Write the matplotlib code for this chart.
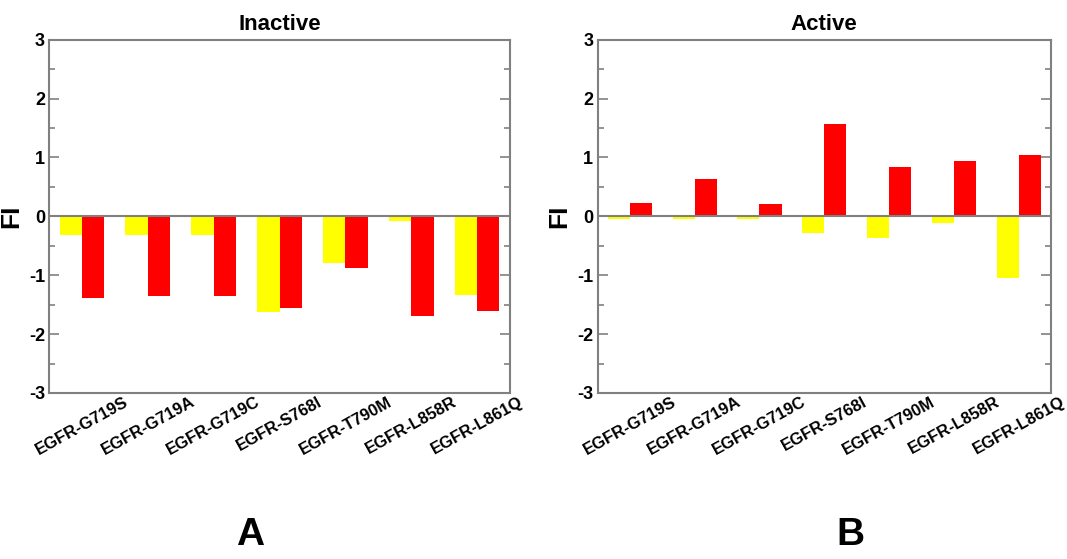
import matplotlib
matplotlib.use("Agg")
import matplotlib.pyplot as plt
from matplotlib.ticker import MultipleLocator
import numpy as np

mutants = ['EGFR-G719S', 'EGFR-G719A', 'EGFR-G719C', 'EGFR-S768I',
           'EGFR-T790M', 'EGFR-L858R', 'EGFR-L861Q']

# FI values (yellow / red series)
inactive_yellow = [-0.32, -0.32, -0.32, -1.62, -0.80, -0.08, -1.33]
inactive_red = [-1.39, -1.36, -1.36, -1.56, -0.88, -1.69, -1.60]
active_yellow = [-0.05, -0.05, -0.05, -0.28, -0.37, -0.12, -1.04]
active_red = [0.23, 0.63, 0.21, 1.57, 0.84, 0.945, 1.05]

plt.rcParams['font.family'] = ['Liberation Sans', 'DejaVu Sans']
plt.rcParams['axes.unicode_minus'] = False

fig = plt.figure(figsize=(10.67, 5.59), dpi=100)
ax_a = fig.add_axes([0.046, 0.297, 0.432, 0.632])
ax_b = fig.add_axes([0.560, 0.297, 0.425, 0.632])

grey = '#808080'
x = np.arange(len(mutants))
w = 0.34


def draw_panel(ax, yellow, red, title):
    ax.bar(x - w / 2, yellow, w, color='#ffff00', zorder=2)
    ax.bar(x + w / 2, red, w, color='#ff0000', zorder=2)
    ax.axhline(0, color=grey, lw=1.5, zorder=3)
    ax.set_xlim(-0.5, len(mutants) - 0.5)
    ax.set_ylim(-3, 3)
    ax.yaxis.set_major_locator(MultipleLocator(1))
    ax.yaxis.set_minor_locator(MultipleLocator(0.5))
    ax.tick_params(axis='y', which='both', direction='in', left=True,
                   right=True, color=grey, width=1.2, labelsize=13)
    ax.tick_params(axis='y', which='major', length=7, pad=3)
    ax.tick_params(axis='y', which='minor', length=4)
    ax.tick_params(axis='x', length=0, pad=1)
    for lab in ax.get_yticklabels():
        lab.set_fontweight('bold')
    ax.set_xticks(x)
    ax.set_xticklabels(mutants, rotation=29, ha='center', fontsize=12,
                       fontweight='bold')
    for s in ax.spines.values():
        s.set_color(grey)
        s.set_linewidth(1.5)
    ax.set_ylabel('FI', fontsize=19, fontweight='bold', labelpad=4)
    ax.set_title(title, fontsize=16, fontweight='bold', pad=7)


draw_panel(ax_a, inactive_yellow, inactive_red, 'Inactive')
draw_panel(ax_b, active_yellow, active_red, 'Active')

fig.text(0.234, 0.025, 'A', fontsize=28, fontweight='bold', ha='center')
fig.text(0.797, 0.025, 'B', fontsize=28, fontweight='bold', ha='center')

fig.savefig('out.png', dpi=100)
